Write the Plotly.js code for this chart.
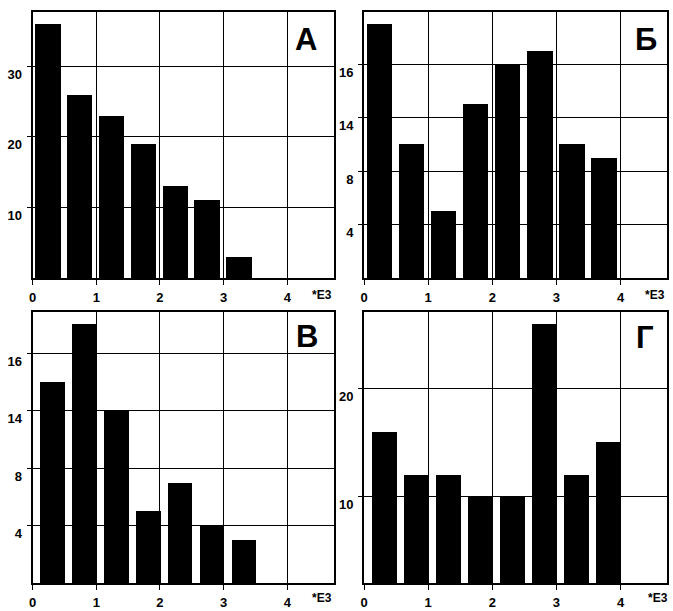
<!DOCTYPE html>
<html>
<head>
<meta charset="utf-8">
<script src="https://cdn.plot.ly/plotly-3.0.1.min.js"></script>
<style>html,body{margin:0;padding:0;background:#fff;}#chart{width:673px;height:611px;}</style>
</head>
<body>
<div id="chart"></div>
<script>
// Bin left edges, in units of 1E3
const binLeftEdges = [0, 0.5, 1.0, 1.5, 2.0, 2.5, 3.0, 3.5];
// Counts per panel
const countsA = [36, 26, 23, 19, 13, 11, 3];
const countsB = [19, 10, 5, 13, 16, 17, 10, 9];
const countsV = [14, 18, 12, 5, 7, 4, 3];
const countsG = [16, 12, 12, 10, 10, 26, 12, 15];
// Panel labels
const panelLabels = ['А', 'Б', 'В', 'Г'];
// Tick values / labels
const xTickVals = [0, 1, 2, 3, 4];
const xTickText = ['0', '1', '2', '3', '4'];
const yTickValsA = [10, 20, 30];
const yTickTextA = ['10', '20', '30'];
const yTickValsB = [4, 8, 12, 16];
const yTickTextB = ['4', '8', '14', '16'];
const yTickValsV = [4, 8, 12, 16];
const yTickTextV = ['4', '8', '14', '16'];
const yTickValsG = [10, 20];
const yTickTextG = ['10', '20'];
const xUnitLabel = '*E3';

const FONT = 'Liberation Sans, Arial, sans-serif';
const tickFont = {family: FONT, size: 13, color: '#000', weight: 'bold'};

function barTrace(counts, xa, ya, top) {
  return {
    type: 'bar',
    x: binLeftEdges.slice(0, counts.length),
    y: counts,
    xaxis: xa, yaxis: ya,
    offset: top ? 0.04 : 0.125,
    width: top ? 0.40 : 0.385,
    marker: {color: '#000', line: {width: 0}},
    hoverinfo: 'skip',
    showlegend: false
  };
}

const data = [
  barTrace(countsA, 'x', 'y', true),
  barTrace(countsB, 'x2', 'y2', true),
  barTrace(countsV, 'x3', 'y3', false),
  barTrace(countsG, 'x4', 'y4', false)
];

const W = 673, H = 611;
const leftDom = [32.5 / W, 334 / W];
const rightDom = [364 / W, 667.3 / W];
const topDom = [1 - 278 / H, 1 - 12 / H];
const botDom = [1 - 583.3 / H, 1 - 312 / H];

function xaxis(dom, anchor) {
  return {
    domain: dom, anchor: anchor, range: [0, 4.73],
    tickvals: xTickVals, ticktext: xTickText,
    showgrid: true, gridcolor: '#000', gridwidth: 1,
    zeroline: false,
    showline: true, linecolor: '#000', linewidth: 2, mirror: true,
    ticks: 'outside', ticklen: 5, tickcolor: '#000', tickwidth: 1,
    tickfont: tickFont, ticklabelstandoff: 1
  };
}
function yaxis(dom, anchor, range, tv, tt) {
  return {
    domain: dom, anchor: anchor, range: range,
    tickvals: tv, ticktext: tt,
    showgrid: true, gridcolor: '#000', gridwidth: 1,
    zeroline: false,
    showline: true, linecolor: '#000', linewidth: 2, mirror: true,
    ticks: 'outside', ticklen: 4, tickcolor: '#000', tickwidth: 1,
    tickfont: tickFont, ticklabelshift: 8, ticklabelstandoff: 2
  };
}

const letterPos = [
  {x: 0.907, y: 0.898, xa: 'x', ya: 'y'},
  {x: 0.931, y: 0.895, xa: 'x2', ya: 'y2'},
  {x: 0.912, y: 0.908, xa: 'x3', ya: 'y3'},
  {x: 0.925, y: 0.906, xa: 'x4', ya: 'y4'}
];
const annotations = [];
letterPos.forEach((p, i) => {
  annotations.push({
    text: panelLabels[i], xref: p.xa + ' domain', yref: p.ya + ' domain',
    x: p.x, y: p.y, xanchor: 'center', yanchor: 'middle', showarrow: false,
    font: {family: FONT, size: 31, color: '#000', weight: 'bold'}
  });
});
const unitPos = [
  {x: 0.96, xa: 'x', ya: 'y', shift: -17},
  {x: 0.959, xa: 'x2', ya: 'y2', shift: -17},
  {x: 0.96, xa: 'x3', ya: 'y3', shift: -15},
  {x: 0.97, xa: 'x4', ya: 'y4', shift: -15}
];
unitPos.forEach(p => {
  annotations.push({
    text: xUnitLabel, xref: p.xa + ' domain', yref: p.ya + ' domain',
    x: p.x, y: 0, yshift: p.shift, xanchor: 'center', yanchor: 'middle', showarrow: false,
    font: {family: FONT, size: 12, color: '#000', weight: 'bold'}
  });
});

const layout = {
  width: W, height: H,
  margin: {l: 0, r: 0, t: 0, b: 0},
  paper_bgcolor: '#fff', plot_bgcolor: '#fff',
  bargap: 0,
  showlegend: false,
  xaxis: xaxis(leftDom, 'y'),
  yaxis: yaxis(topDom, 'x', [0, 37.7], yTickValsA, yTickTextA),
  xaxis2: xaxis(rightDom, 'y2'),
  yaxis2: yaxis(topDom, 'x2', [0, 19.9], yTickValsB, yTickTextB),
  xaxis3: xaxis(leftDom, 'y3'),
  yaxis3: yaxis(botDom, 'x3', [0, 18.86], yTickValsV, yTickTextV),
  xaxis4: xaxis(rightDom, 'y4'),
  yaxis4: yaxis(botDom, 'x4', [1.9, 27.1], yTickValsG, yTickTextG),
  annotations: annotations
};

Plotly.newPlot('chart', data, layout, {displayModeBar: false, staticPlot: true});
</script>
</body>
</html>
